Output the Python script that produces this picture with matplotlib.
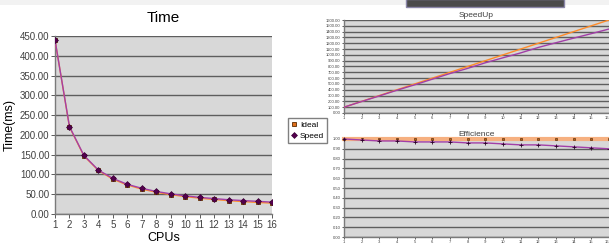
import matplotlib
matplotlib.use("Agg")
import matplotlib.pyplot as plt
from matplotlib.patches import Rectangle

plt.rcParams['font.family'] = ['Liberation Sans', 'DejaVu Sans']

# data
cpus = list(range(1, 17))
time_ideal = [440, 220, 146.7, 110, 88, 73.3, 62.9, 55, 48.9, 44, 40, 36.7, 33.8, 31.4, 29.3, 27.5]
time_speed = [440, 221, 148, 111, 90, 75, 65, 57, 51, 46, 42, 39, 36, 34, 32, 30]
speedup_ideal = [100, 200, 300, 400, 500, 600, 700, 800, 900, 1000, 1100, 1200, 1300, 1400, 1500, 1600]
speedup_speed = [100, 198, 294, 392, 485, 582, 679, 768, 864, 950, 1034, 1128, 1209, 1288, 1365, 1445]
eff_ideal = [1.0] * 16
eff_speed = [1.00, 0.99, 0.98, 0.98, 0.97, 0.97, 0.97, 0.96, 0.96, 0.95, 0.94, 0.94, 0.93, 0.92, 0.91, 0.90]

bg = '#d8d8d8'
grid = '#5e5e5e'
orange = '#ff8c2a'
purple = '#a23fa8'

fig = plt.figure(figsize=(6.09, 2.43), dpi=100)
fig.patch.set_facecolor('white')
# strip of the screenshot above the charts
fig.patches.append(Rectangle((0, 1 - 5/243), 1, 5/243, transform=fig.transFigure,
                             facecolor='#f2f2f2', edgecolor='none'))
fig.patches.append(Rectangle((406/609, 1 - 7/243), 158/609, 8/243, transform=fig.transFigure,
                             facecolor='#4b4b4b', edgecolor='#8a86a8', linewidth=1))


def style(ax, fs, tl):
    ax.set_facecolor(bg)
    for s in ['top', 'right']:
        ax.spines[s].set_visible(False)
    for s in ['left', 'bottom']:
        ax.spines[s].set_color('#7a7a7a')
        ax.spines[s].set_linewidth(1)
    ax.yaxis.grid(True, color=grid, linewidth=1)
    ax.set_axisbelow(True)
    ax.tick_params(labelsize=fs, colors='#404040', length=tl, width=0.6, pad=1)
    ax.set_xticks(cpus)
    ax.set_xlim(1, 16)


# Time
ax1 = fig.add_axes([55/609, 1 - 214/243, 217/609, 178/243])
style(ax1, 7, 3)
ax1.plot(cpus, time_ideal, color=orange, lw=1, marker='s', ms=3.5,
         mfc='#e0701c', mec='#5a2a00', mew=0.6, label='Ideal', zorder=3)
ax1.plot(cpus, time_speed, color=purple, lw=1, marker='D', ms=3,
         mfc='#55004f', mec='#3a0035', mew=0.5, label='Speed', zorder=4)
ax1.set_ylim(0, 450)
ax1.set_yticks(range(0, 451, 50))
ax1.set_yticklabels(['%.2f' % v for v in range(0, 451, 50)])
ax1.set_title('Time', fontsize=11, pad=10)
ax1.set_xlabel('CPUs', fontsize=9, labelpad=2)
ax1.set_ylabel('Time(ms)', fontsize=9, labelpad=3)

fig.legend(loc='upper left', bbox_to_anchor=(284/609, 1 - 114/243), fontsize=6,
           fancybox=False, edgecolor='#808080', framealpha=1, borderpad=0.4,
           handlelength=0.6, handletextpad=0.4, labelspacing=0.3)
for h in fig.legends[0].get_lines():
    h.set_linestyle('none')

# SpeedUp
ax2 = fig.add_axes([344/609, 1 - 113/243, 265/609, 93/243])
style(ax2, 3, 1.5)
ax2.plot(cpus, speedup_ideal, color=orange, lw=1, zorder=3)
ax2.plot(cpus, speedup_speed, color=purple, lw=1, zorder=4)
ax2.set_ylim(0, 1600)
ax2.set_yticks(range(0, 1601, 100))
ax2.set_yticklabels(['%.2f' % v for v in range(0, 1601, 100)])
ax2.set_title('SpeedUp', fontsize=6, pad=2, color='#404040')

# Efficience
ax3 = fig.add_axes([344/609, 6/243, 265/609, 98/243])
style(ax3, 3, 1.5)
ax3.plot(cpus, eff_ideal, color='#f6b080', lw=3, marker='s', ms=2,
         mfc='#c06010', mec='#402000', mew=0.4, zorder=3, clip_on=False)
ax3.plot(cpus, eff_speed, color=purple, lw=1, marker='+', ms=3,
         mec='#2a0028', mew=0.6, zorder=4, clip_on=False)
ax3.set_ylim(0, 1.0)
ax3.set_yticks([i / 10 for i in range(11)])
ax3.set_yticklabels(['%.2f' % (i / 10) for i in range(11)])
ax3.set_title('Efficience', fontsize=6, pad=2, color='#404040')

# keep the last tick label inside the picture
for ax in (ax2, ax3):
    ax.get_xticklabels()[-1].set_horizontalalignment('right')

fig.savefig('out.png', dpi=100)
